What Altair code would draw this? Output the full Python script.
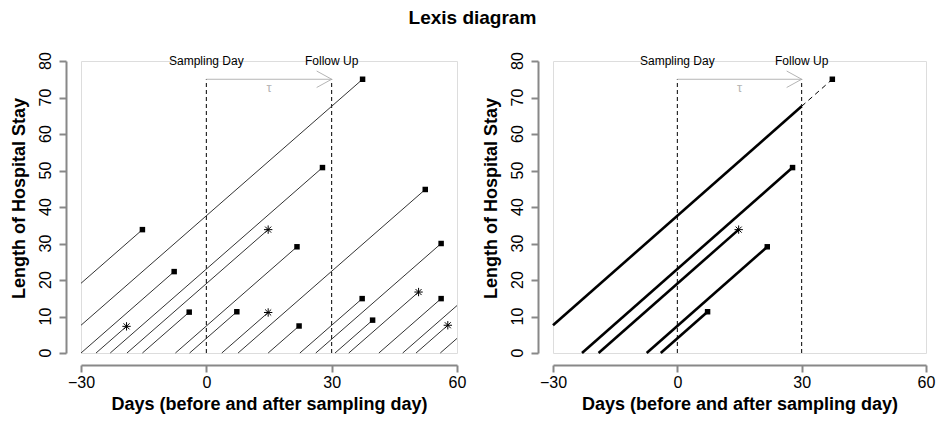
import altair as alt
import pandas as pd

# ---- data -------------------------------------------------------------------
# admission day (relative to sampling day), end of stay day, and outcome
admit_day = [-49.1, -37.6, -30.0, -26.4, -23.0, -19.0, -15.3, -7.4, -4.0, 3.7,
             7.6, 14.8, 22.4, 26.2, 30.8, 34.1, 41.3, 47.0, 50.2, 56.0]
end_day = [-15.3, 37.4, -7.7, -19.1, 27.8, 14.8, -4.1, 21.7, 7.3, 14.8,
           52.4, 22.2, 37.3, 56.2, 39.8, 50.8, 56.2, 60.0, 57.8, 60.0]
outcome = ["discharge", "discharge", "discharge", "death", "discharge", "death",
           "discharge", "discharge", "discharge", "death", "discharge", "discharge",
           "discharge", "discharge", "discharge", "death", "discharge", "censored",
           "death", "censored"]

x_ticks = [-30, 0, 30, 60]
y_ticks = [0, 10, 20, 30, 40, 50, 60, 70, 80]
x_domain = [-30, 60]
y_domain = [0, 80]
sampling_day = 0
tau = 30
ref_days = [sampling_day, sampling_day + tau]
ref_labels = ["Sampling Day", "Follow Up"]
label_level = 80
arrow_level = 75
tau_level = 72.5
tau_label = ["\u03c4"]

X_TITLE = "Days (before and after sampling day)"
Y_TITLE = "Length of Hospital Stay"

FONT = "Liberation Sans"
GREY = "#b5b5b5"
ASTERISK = "M-1,0L1,0M0,-1L0,1M-0.72,-0.72L0.72,0.72M-0.72,0.72L0.72,-0.72"
ARROWHEAD = "M-1,-0.55L0,0L-1,0.55"

# ---- tables -----------------------------------------------------------------
pat = pd.DataFrame({"admit": admit_day, "end": end_day, "outcome": outcome})
pat["x"] = pat["admit"].clip(lower=x_domain[0])
pat["y"] = pat["x"] - pat["admit"]
pat["x2"] = pat["end"]
pat["y2"] = pat["end"] - pat["admit"]
marks_all = pat[pat["outcome"] != "censored"].copy()
marks_all["mx"] = marks_all["x2"]
marks_all["my"] = marks_all["y2"]

present = pat[(pat["admit"] <= sampling_day) & (pat["end"] >= sampling_day)].copy()
solid = present.copy()
solid["x2"] = solid["end"].clip(upper=sampling_day + tau)
solid["y2"] = solid["x2"] - solid["admit"]
ext = present[present["end"] > sampling_day + tau].copy()
ext["x"] = float(sampling_day + tau)
ext["y"] = ext["x"] - ext["admit"]
marks_present = present[present["outcome"] != "censored"].copy()
marks_present["mx"] = marks_present["x2"]
marks_present["my"] = marks_present["y2"]

refs = pd.DataFrame({"x": ref_days, "label": ref_labels,
                     "y": [0] * 2, "y2": [arrow_level] * 2,
                     "ly": [label_level] * 2})
arrow = pd.DataFrame({"x": [ref_days[0]], "x2": [ref_days[1]], "y": [arrow_level]})
head = pd.DataFrame({"x": [ref_days[1]], "y": [arrow_level]})
tau_df = pd.DataFrame({"x": [(ref_days[0] + ref_days[1]) / 2], "y": [tau_level],
                       "t": tau_label})
ytick_df = pd.DataFrame({"y": y_ticks, "t": [str(v) for v in y_ticks]})

# ---- encodings --------------------------------------------------------------
Y_OFFSET, Y_TICK, Y_LABEL_PAD = 15, 7, 5
xs = alt.Scale(domain=x_domain, nice=False, zero=False)
ys = alt.Scale(domain=y_domain, nice=False, zero=False)
x_axis = alt.Axis(values=x_ticks, offset=12, tickSize=7, labelPadding=2,
                  labelFontSize=16, titleFontSize=18, titleFontWeight="bold",
                  titlePadding=5, labelFlush=False, labelOverlap=False,
                  domainWidth=2, tickWidth=2, grid=False)
# tick labels of the y axis are drawn as rotated text (see ylabel layer)
y_axis = alt.Axis(values=y_ticks, offset=Y_OFFSET, tickSize=Y_TICK, labels=False,
                  titleFontSize=18, titleFontWeight="bold",
                  titlePadding=30, titleY=137,
                  domainWidth=2, tickWidth=2, grid=False)


def X(f):
    return alt.X(f, type="quantitative", scale=xs, axis=x_axis, title=X_TITLE)


def Y(f):
    return alt.Y(f, type="quantitative", scale=ys, axis=y_axis, title=Y_TITLE)


def reference_layers():
    vr = alt.Chart(refs).mark_rule(color="black", strokeWidth=1,
                                   strokeDash=[4, 3]).encode(
        x=X("x"), y=Y("y"), y2="y2")
    lbl = alt.Chart(refs).mark_text(fontSize=12, font=FONT, color="black",
                                    baseline="middle").encode(
        x=X("x"), y=Y("ly"), text="label:N")
    ar = alt.Chart(arrow).mark_rule(color=GREY, strokeWidth=1).encode(
        x=X("x"), x2="x2", y=Y("y"))
    hd = alt.Chart(head).mark_point(shape=ARROWHEAD, filled=False, size=900,
                                    color=GREY, strokeWidth=1, opacity=1).encode(
        x=X("x"), y=Y("y"))
    tt = alt.Chart(tau_df).mark_text(fontSize=13, font=FONT, color=GREY,
                                     baseline="middle").encode(
        x=X("x"), y=Y("y"), text="t:N")
    yl = alt.Chart(ytick_df).mark_text(fontSize=16, font=FONT, color="black",
                                       align="center", baseline="bottom").encode(
        x=alt.value(-(Y_OFFSET + Y_TICK + Y_LABEL_PAD)), y=Y("y"), text="t:N",
        angle=alt.value(-90))
    return [vr, ar, hd, tt, lbl, yl]


def marker_layers(df):
    sq = alt.Chart(df[df["outcome"] == "discharge"]).mark_point(
        shape="square", filled=True, size=30, color="black", opacity=1).encode(
        x=X("mx"), y=Y("my"))
    st = alt.Chart(df[df["outcome"] == "death"]).mark_point(
        shape=ASTERISK, filled=False, size=70, color="black", strokeWidth=1,
        opacity=1).encode(x=X("mx"), y=Y("my"))
    return [sq, st]


H = 292

left_lines = alt.Chart(pat).mark_rule(color="#333333", strokeWidth=1).encode(
    x=X("x"), y=Y("y"), x2="x2", y2="y2")
left = alt.layer(*reference_layers(), left_lines,
                 *marker_layers(marks_all)).properties(width=376, height=H)

right_solid = alt.Chart(solid).mark_rule(color="black", strokeWidth=2.6).encode(
    x=X("x"), y=Y("y"), x2="x2", y2="y2")
right_ext = alt.Chart(ext).mark_rule(color="black", strokeWidth=1,
                                     strokeDash=[5, 4]).encode(
    x=X("x"), y=Y("y"), x2="x2", y2="y2")
right = alt.layer(*reference_layers(), right_solid, right_ext,
                  *marker_layers(marks_present)).properties(width=373, height=H)

chart = alt.hconcat(left, right, spacing=14).properties(
    title=alt.TitleParams("Lexis diagram", fontSize=19, fontWeight="bold",
                          font=FONT, anchor="middle", offset=24, color="black"),
    padding={"left": 1, "top": 0, "right": 0, "bottom": 0},
).configure_view(stroke=None).configure_axis(
    labelFont=FONT, titleFont=FONT, labelColor="black", titleColor="black",
    domainColor="black", tickColor="black"
).configure(font=FONT)

chart.save("out.html", embed_options={"renderer": "svg", "actions": False})
